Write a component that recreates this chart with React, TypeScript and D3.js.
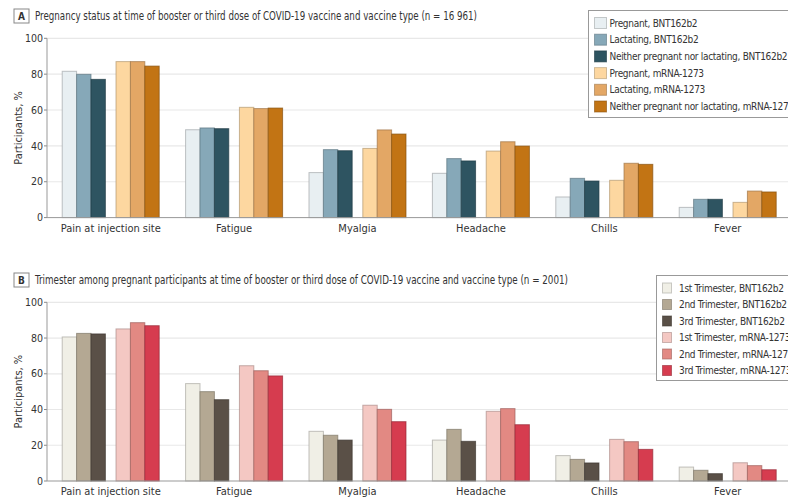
import React from "react";
import * as d3 from "d3";

const categories = ["Pain at injection site", "Fatigue", "Myalgia", "Headache", "Chills", "Fever"];

const seriesA = [
  "Pregnant, BNT162b2",
  "Lactating, BNT162b2",
  "Neither pregnant nor lactating, BNT162b2",
  "Pregnant, mRNA-1273",
  "Lactating, mRNA-1273",
  "Neither pregnant nor lactating, mRNA-1273",
];
const colorsA = ["#e8eff2", "#86a8b8", "#2e5461", "#fdd7a0", "#e3a765", "#c27414"];
// values[series][category]
const valuesA = [
  [81.6, 49.0, 25.1, 24.7, 11.5, 5.7],
  [79.9, 50.0, 37.9, 32.9, 21.9, 10.2],
  [77.1, 49.6, 37.3, 31.6, 20.4, 10.2],
  [87.0, 61.5, 38.6, 37.1, 20.8, 8.5],
  [87.0, 60.8, 48.9, 42.3, 30.3, 14.8],
  [84.5, 61.1, 46.6, 39.9, 29.7, 14.3],
];

const seriesB = [
  "1st Trimester, BNT162b2",
  "2nd Trimester, BNT162b2",
  "3rd Trimester, BNT162b2",
  "1st Trimester, mRNA-1273",
  "2nd Trimester, mRNA-1273",
  "3rd Trimester, mRNA-1273",
];
const colorsB = ["#f0efe6", "#b4a893", "#5a5047", "#f4c8c3", "#e28983", "#d63c4f"];
const valuesB = [
  [80.6, 54.5, 27.8, 22.9, 14.2, 7.8],
  [82.6, 50.0, 25.6, 28.9, 12.1, 6.0],
  [82.3, 45.5, 22.9, 22.2, 10.1, 4.1],
  [85.1, 64.5, 42.4, 39.0, 23.3, 10.2],
  [88.6, 61.7, 40.1, 40.5, 22.0, 8.6],
  [86.9, 58.8, 33.2, 31.5, 17.7, 6.3],
];

const yTicks = [0, 20, 40, 60, 80, 100];

const titleA = "Pregnancy status at time of booster or third dose of COVID-19 vaccine and vaccine type (n = 16 961)";
const titleB = "Trimester among pregnant participants at time of booster or third dose of COVID-19 vaccine and vaccine type (n = 2001)";

const FONT = "'Liberation Sans Narrow', 'DejaVu Sans Condensed', 'Roboto Condensed', 'Liberation Sans', sans-serif";
const TEXT = "#333";

type PanelProps = {
  letter: string;
  title: string;
  titleWidth: number;
  top: number; // y of 100
  bottom: number; // y of 0
  titleY: number;
  series: string[];
  colors: string[];
  values: number[][];
  legend: { x: number; y: number; h: number; sw: number; sh: number; step: number; tx: number };
};

function Panel(p: PanelProps) {
  const x0 = d3
    .scaleBand<string>()
    .domain(categories)
    .range([49, 789.4])
    .paddingInner(0.214)
    .paddingOuter(0.107);
  const y = d3.scaleLinear().domain([0, 100]).range([p.bottom, p.top]);
  const bw = x0.bandwidth() / 6.74;
  const gap = x0.bandwidth() - 6 * bw;
  const axisX = 47;
  const off = (i: number) => i * bw + (i >= 3 ? gap : 0);

  return (
    <g>
      {/* title */}
      <rect x={14} y={p.titleY - 11} width={15} height={14} fill="#fff" stroke="#888" strokeWidth={1} />
      <text x={21.5} y={p.titleY} textAnchor="middle" fontSize={10} fontWeight="bold" fill={TEXT} fontFamily={FONT}>
        {p.letter}
      </text>
      <text x={35} y={p.titleY} fontSize={11.5} fill={TEXT} fontFamily={FONT} textLength={p.titleWidth} lengthAdjust="spacingAndGlyphs">
        {p.title}
      </text>

      {/* grid */}
      {yTicks.map((t) => (
        <g key={t}>
          {t > 0 && <line x1={axisX} x2={788} y1={y(t)} y2={y(t)} stroke="#e8e8e8" strokeWidth={1.2} />}
          <line x1={axisX - 3} x2={axisX} y1={y(t)} y2={y(t)} stroke="#888" strokeWidth={1} />
          <text x={axisX - 4} y={y(t)} dy="0.35em" textAnchor="end" fontSize={10.5} fill={TEXT} fontFamily={FONT}>
            {t}
          </text>
        </g>
      ))}
      <line x1={axisX} x2={axisX} y1={y(0)} y2={y(100)} stroke="#999" strokeWidth={1} />
      <text
        transform={`translate(22,${(y(0) + y(100)) / 2}) rotate(-90)`}
        textAnchor="middle"
        fontSize={11}
        fill={TEXT}
        fontFamily={FONT}
      >
        Participants, %
      </text>

      {/* bars */}
      {categories.map((c, ci) => (
        <g key={c}>
          {p.series.map((s, si) => {
            const v = p.values[si][ci];
            const fill = p.colors[si];
            const stroke = d3.color(fill)!.darker(1).formatHex();
            return (
              <rect
                key={s}
                x={(x0(c) as number) + off(si)}
                y={y(v)}
                width={bw}
                height={y(0) - y(v)}
                fill={fill}
                stroke={stroke}
                strokeWidth={1}
                strokeOpacity={0.7}
              />
            );
          })}
          <text
            x={(x0(c) as number) + x0.bandwidth() / 2}
            y={y(0) + 14}
            textAnchor="middle"
            fontSize={11}
            fill={TEXT}
            fontFamily={FONT}
          >
            {c}
          </text>
        </g>
      ))}
      <line x1={axisX} x2={788} y1={y(0)} y2={y(0)} stroke="#999" strokeWidth={1} />

      {/* legend */}
      <rect x={p.legend.x} y={p.legend.y} width={300} height={p.legend.h} fill="#fff" stroke="#999" strokeWidth={1} />
      {p.series.map((s, si) => {
        const cy = p.legend.y + 12.5 + si * p.legend.step;
        return (
          <g key={s}>
            <rect
              x={p.legend.x + 6}
              y={cy - p.legend.sh / 2}
              width={p.legend.sw}
              height={p.legend.sh}
              fill={p.colors[si]}
              stroke={d3.color(p.colors[si])!.darker(1).formatHex()}
              strokeOpacity={0.6}
              strokeWidth={1}
            />
            <text
              x={p.legend.x + p.legend.tx}
              y={cy}
              dy="0.35em"
              fontSize={10}
              letterSpacing={-0.3}
              fill={TEXT}
              fontFamily={FONT}
            >
              {s}
            </text>
          </g>
        );
      })}
    </g>
  );
}

export default function App() {
  return (
    <svg
      width={788}
      height={497}
      viewBox="0 0 788 497"
      style={{ position: "absolute", left: 0, top: 0, background: "#fff" }}
    >
      <rect width={788} height={497} fill="#fff" />
      <Panel
        letter="A"
        title={titleA}
        titleWidth={442}
        top={38.3}
        bottom={217.6}
        titleY={20}
        series={seriesA}
        colors={colorsA}
        values={valuesA}
        legend={{ x: 588.5, y: 10.5, h: 107, sw: 12, sh: 11, step: 16.7, tx: 21 }}
      />
      <Panel
        letter="B"
        title={titleB}
        titleWidth={533}
        top={302.3}
        bottom={481}
        titleY={284}
        series={seriesB}
        colors={colorsB}
        values={valuesB}
        legend={{ x: 656.5, y: 275.5, h: 105, sw: 9, sh: 10, step: 16.5, tx: 22.5 }}
      />
    </svg>
  );
}
